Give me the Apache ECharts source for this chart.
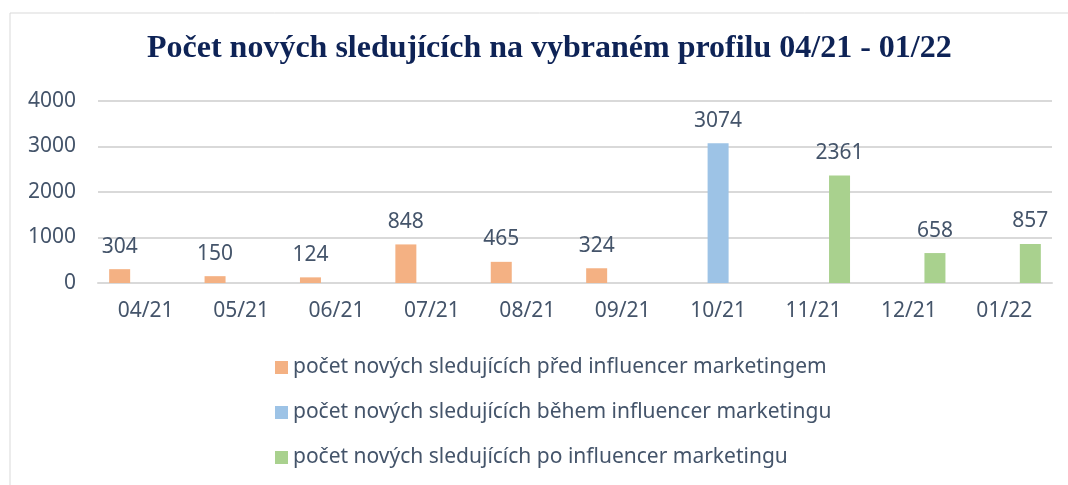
<!DOCTYPE html>
<html>
<head>
<meta charset="utf-8">
<script src="https://cdn.jsdelivr.net/npm/echarts@6/dist/echarts.min.js"></script>
<style>html,body{margin:0;padding:0;background:#fff}#c{width:1068px;height:485px}</style>
</head>
<body>
<div id="c"></div>
<script>
var categories = ['04/21','05/21','06/21','07/21','08/21','09/21','10/21','11/21','12/21','01/22'];
var beforeValues = [304,150,124,848,465,324,null,null,null,null];
var duringValues = [null,null,null,null,null,null,3074,null,null,null];
var afterValues = [null,null,null,null,null,null,null,2361,658,857];
var seriesNames = [
  'počet nových sledujících před influencer marketingem',
  'počet nových sledujících během influencer marketingu',
  'počet nových sledujících po influencer marketingu'
];
var yTicks = {min:0, max:4000, interval:1000};
var textColor = '#44546A';
var font = 'Noto Sans';
var chart = echarts.init(document.getElementById('c'));
function mk(name, data, color){
  return {
    name: name, type: 'bar', data: data, barWidth: 21, barGap: '24%',
    itemStyle: {color: color},
    label: {show: true, position: 'top', distance: 12, color: textColor, fontFamily: font, fontSize: 21},
    animation: false
  };
}
chart.setOption({
  animation: false,
  graphic: [{type:'rect', shape:{x:10, y:13, width:1100, height:520}, style:{fill:'none', stroke:'#d9d9d9', lineWidth:1}}],
  title: {
    text: 'Počet nových sledujících na vybraném profilu 04/21 - 01/22',
    left: 142, top: 28,
    textStyle: {fontFamily: 'Liberation Serif', fontWeight: 'bold', fontSize: 32, color: '#0E2356'}
  },
  grid: {left: 98, right: 16, top: 101, bottom: 202, containLabel: false},
  xAxis: {
    type: 'category', data: categories,
    axisLine: {show: true, lineStyle: {color: '#d9d9d9', width: 2}},
    axisTick: {show: false},
    axisLabel: {color: textColor, fontFamily: font, fontSize: 21, margin: 18}
  },
  yAxis: {
    type: 'value', min: yTicks.min, max: yTicks.max, interval: yTicks.interval,
    axisLine: {show: false}, axisTick: {show: false},
    splitLine: {lineStyle: {color: '#d9d9d9', width: 2}},
    axisLabel: {color: textColor, fontFamily: font, fontSize: 21, margin: 22, formatter: function(v){return String(v);}}
  },
  legend: {
    orient: 'vertical', left: 270, top: 352, itemGap: 24,
    itemWidth: 13, itemHeight: 13, icon: 'rect',
    textStyle: {color: textColor, fontFamily: font, fontSize: 21},
    data: seriesNames
  },
  series: [
    mk(seriesNames[0], beforeValues, '#F4B183'),
    mk(seriesNames[1], duringValues, '#9DC3E6'),
    mk(seriesNames[2], afterValues, '#A9D18E')
  ]
});
</script>
</body>
</html>
